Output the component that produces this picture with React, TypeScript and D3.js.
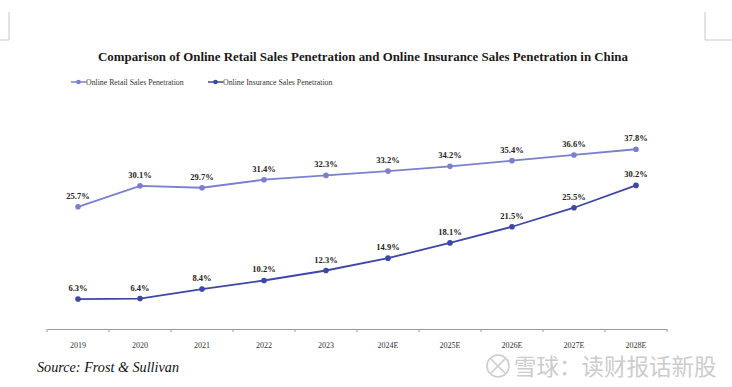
import React, { useEffect, useRef } from 'react';
import * as d3 from 'd3';

const years = ['2019', '2020', '2021', '2022', '2023', '2024E', '2025E', '2026E', '2027E', '2028E'];
const retailPenetration = [25.7, 30.1, 29.7, 31.4, 32.3, 33.2, 34.2, 35.4, 36.6, 37.8];
const insurancePenetration = [6.3, 6.4, 8.4, 10.2, 12.3, 14.9, 18.1, 21.5, 25.5, 30.2];
const seriesNames = ['Online Retail Sales Penetration', 'Online Insurance Sales Penetration'];

const W = 732;
const H = 387;

const App = () => {
    const svgRef = useRef(null);

    useEffect(() => {
        const svg = d3.select(svgRef.current);
        svg.selectAll('*').remove();

        const serif = '"Liberation Serif", "DejaVu Serif", serif';
        const colors = ['#7a7fd0', '#3d47a6'];

        // page corner marks
        svg.append('path')
            .attr('d', 'M9,12V40H0 M705,12V40H732')
            .attr('fill', 'none')
            .attr('stroke', '#c8c8c8')
            .attr('stroke-width', 1);

        // Title
        svg.append('text')
            .attr('x', 363)
            .attr('y', 61)
            .attr('text-anchor', 'middle')
            .attr('font-family', serif)
            .attr('font-weight', 'bold')
            .attr('font-size', '13px')
            .attr('textLength', 530)
            .attr('lengthAdjust', 'spacingAndGlyphs')
            .attr('fill', '#1a1a1a')
            .text('Comparison of Online Retail Sales Penetration and Online Insurance Sales Penetration in China');

        // Scales
        const x = d3.scaleBand().domain(years).range([47, 667]);
        const y = d3.scaleLinear().domain([0, 45]).range([329, 115]);
        const cx = (d: string) => (x(d) as number) + x.bandwidth() / 2;

        // Legend
        const legendX = [71, 208];
        seriesNames.forEach((name, i) => {
            const lg = svg.append('g').attr('transform', `translate(${legendX[i]},82)`);
            lg.append('line')
                .attr('x1', 0).attr('x2', 15)
                .attr('stroke', colors[i]).attr('stroke-width', 1.5);
            lg.append('circle')
                .attr('cx', 7.5).attr('r', 2.3).attr('fill', colors[i]);
            lg.append('text')
                .attr('x', 15).attr('y', 2.6)
                .attr('font-family', serif)
                .attr('font-size', '7.8px')
                .attr('fill', '#333')
                .text(name);
        });

        // X axis
        const xAxis = d3.axisBottom(x).tickSize(0).tickPadding(13);
        const ax = svg.append('g')
            .attr('transform', 'translate(0,329)')
            .call(xAxis);
        ax.select('.domain').attr('stroke', '#9a9a9a').attr('stroke-width', 1);
        ax.selectAll('text')
            .attr('font-family', serif)
            .attr('font-size', '8px')
            .attr('fill', '#333');
        // ticks at band boundaries
        const bounds = years.map(d => x(d) as number).concat([667]);
        ax.selectAll('.bound')
            .data(bounds)
            .enter()
            .append('line')
            .attr('x1', d => d).attr('x2', d => d)
            .attr('y1', 0).attr('y2', 3)
            .attr('stroke', '#9a9a9a');

        const line = d3.line<number>()
            .x((d, i) => cx(years[i]))
            .y(d => y(d));

        [retailPenetration, insurancePenetration].forEach((vals, si) => {
            const g = svg.append('g');
            g.append('path')
                .datum(vals)
                .attr('fill', 'none')
                .attr('stroke', colors[si])
                .attr('stroke-width', 1.8)
                .attr('d', line);
            g.selectAll('circle')
                .data(vals)
                .enter()
                .append('circle')
                .attr('cx', (d, i) => cx(years[i]))
                .attr('cy', d => y(d))
                .attr('r', 2.8)
                .attr('fill', colors[si]);
            g.selectAll('text')
                .data(vals)
                .enter()
                .append('text')
                .attr('x', (d, i) => cx(years[i]))
                .attr('y', d => y(d) - 8)
                .attr('text-anchor', 'middle')
                .attr('font-family', serif)
                .attr('font-weight', 'bold')
                .attr('font-size', '8.5px')
                .attr('fill', '#222')
                .text(d => `${d.toFixed(1)}%`);
        });

        // Source
        svg.append('text')
            .attr('x', 37)
            .attr('y', 372)
            .attr('font-family', serif)
            .attr('font-style', 'italic')
            .attr('font-size', '14.2px')
            .attr('fill', '#111')
            .text('Source: Frost & Sullivan');

        // Watermark
        const wm = svg.append('g').attr('fill', 'none').attr('stroke', '#cccccc');
        wm.append('circle').attr('cx', 498).attr('cy', 366).attr('r', 11).attr('stroke-width', 1.6);
        wm.append('path').attr('d', 'M491,359L505,373M505,359L491,373').attr('stroke-width', 1.6);
        svg.append('text')
            .attr('x', 514)
            .attr('y', 375)
            .attr('font-family', '"Noto Sans CJK SC", sans-serif')
            .attr('font-size', '22.5px')
            .attr('fill', '#cccccc')
            .text('雪球：读财报话新股');
    }, []);

    return (
        <svg
            ref={svgRef}
            width={W}
            height={H}
            style={{ position: 'absolute', left: 0, top: 0, background: '#fff' }}
        />
    );
};

export default App;
